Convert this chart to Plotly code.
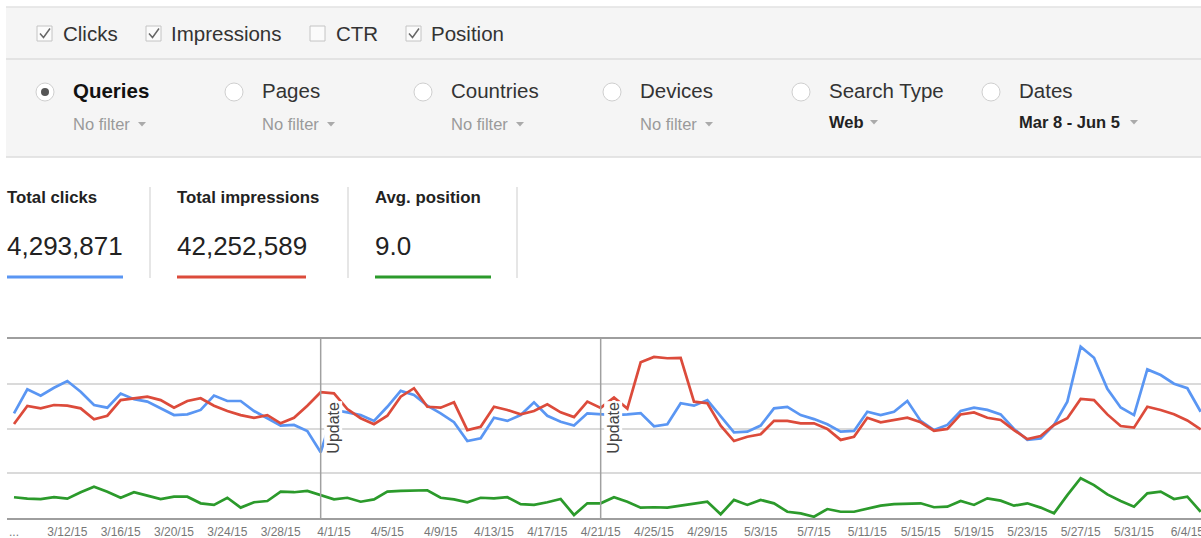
import plotly.graph_objects as go
from datetime import date, timedelta

# ---------------- data ----------------
dates = [(date(2015, 3, 8) + timedelta(days=i)).isoformat() for i in range(90)]

clicks = [46800, 57500, 54700, 58200, 61200, 56400, 50500, 49300, 55600, 53100,
          52000, 49000, 46000, 46300, 48300, 54700, 52300, 52300, 47800, 44600,
          41300, 41600, 38900, 29400, 48300, 47200, 46000, 43400, 49700, 56800,
          55000, 50200, 46800, 42800, 34400, 35600, 44800, 43400, 46000, 51700,
          45700, 43000, 41300, 46800, 46500, 46000, 46300, 46900, 41000, 41900,
          51300, 50200, 52700, 45300, 38300, 38600, 41300, 49000, 49700, 46000,
          44200, 41900, 38600, 38900, 47500, 46000, 47500, 52300, 43400, 39300,
          41600, 47800, 49300, 48300, 46300, 39800, 34900, 35600, 41600, 52000,
          76600, 71600, 57700, 49400, 46000, 66400, 63900, 60000, 58000, 47500]

impressions = [420000, 501000, 490000, 505000, 502000, 490000, 441000, 457000, 527000, 535000,
               542000, 527000, 493000, 523000, 535000, 502000, 478000, 460000, 448000, 460000,
               423000, 448000, 502000, 562000, 557000, 487000, 446000, 419000, 457000, 542000,
               580000, 497000, 493000, 517000, 393000, 408000, 497000, 483000, 463000, 478000,
               508000, 472000, 451000, 520000, 492000, 539000, 489000, 696000, 720000, 714000,
               716000, 520000, 513000, 413000, 344000, 363000, 374000, 434000, 434000, 423000,
               423000, 398000, 349000, 363000, 448000, 428000, 438000, 448000, 428000, 390000,
               398000, 463000, 472000, 448000, 438000, 393000, 353000, 366000, 416000, 446000,
               532000, 527000, 463000, 411000, 404000, 497000, 483000, 464000, 436000, 396000]

position = [8.84, 8.92, 8.94, 8.83, 8.92, 8.56, 8.25, 8.53, 8.87, 8.56,
            8.75, 8.94, 8.81, 8.81, 9.18, 9.27, 8.87, 9.42, 9.12, 9.05,
            8.53, 8.56, 8.49, 8.72, 8.96, 8.87, 9.09, 8.96, 8.53, 8.49,
            8.49, 8.45, 8.87, 8.96, 9.12, 8.87, 8.90, 8.84, 9.23, 9.27,
            9.12, 8.94, 9.83, 9.18, 9.18, 8.84, 9.09, 9.42, 9.40, 9.42,
            9.31, 9.18, 9.09, 9.79, 8.99, 9.27, 8.99, 9.18, 9.65, 9.74,
            9.93, 9.50, 9.65, 9.65, 9.46, 9.31, 9.22, 9.20, 9.18, 9.40,
            9.37, 9.05, 9.27, 8.90, 9.03, 9.31, 9.18, 9.42, 9.74, 8.72,
            7.78, 8.16, 8.68, 9.05, 9.37, 8.62, 8.53, 8.94, 8.81, 9.65]

tick_dates = ["2015-03-08", "2015-03-12", "2015-03-16", "2015-03-20", "2015-03-24",
              "2015-03-28", "2015-04-01", "2015-04-05", "2015-04-09", "2015-04-13",
              "2015-04-17", "2015-04-21", "2015-04-25", "2015-04-29", "2015-05-03",
              "2015-05-07", "2015-05-11", "2015-05-15", "2015-05-19", "2015-05-23",
              "2015-05-27", "2015-05-31", "2015-06-04"]
tick_labels = ["...", "3/12/15", "3/16/15", "3/20/15", "3/24/15", "3/28/15", "4/1/15",
               "4/5/15", "4/9/15", "4/13/15", "4/17/15", "4/21/15", "4/25/15", "4/29/15",
               "5/3/15", "5/7/15", "5/11/15", "5/15/15", "5/19/15", "5/23/15", "5/27/15",
               "5/31/15", "6/4/15"]

update_dates = ["2015-03-31", "2015-04-21"]
update_label = "Update"

metric_names = ["Total clicks", "Total impressions", "Avg. position"]
metric_values = ["4,293,871", "42,252,589", "9.0"]

checkbox_labels = ["Clicks", "Impressions", "CTR", "Position"]
checkbox_checked = [True, True, False, True]

dim_labels = ["Queries", "Pages", "Countries", "Devices", "Search Type", "Dates"]
dim_filters = ["No filter", "No filter", "No filter", "No filter", "Web", "Mar 8 - Jun 5"]

# ---------------- style ----------------
W, H = 1201, 538
FONT = "Liberation Sans, Arial, sans-serif"
BLUE, RED, GREEN = "#5a96f3", "#dc4b3b", "#2b9a2b"


def X(px):
    return px / W


def Y(py):
    return 1 - py / H


shapes = []
annotations = []


def txt(s, x, y, size, color="#333", bold=False, anchor="left"):
    annotations.append(dict(text=("<b>%s</b>" % s) if bold else s, x=X(x), y=Y(y),
                            xref="paper", yref="paper", xanchor=anchor, yanchor="middle",
                            showarrow=False, font=dict(family=FONT, size=size, color=color)))


def rect(x0, y0, x1, y1, fill, line=None, lw=1):
    shapes.append(dict(type="rect", xref="paper", yref="paper", x0=X(x0), x1=X(x1),
                       y0=Y(y1), y1=Y(y0), fillcolor=fill,
                       line=dict(color=line or "rgba(0,0,0,0)", width=lw if line else 0),
                       layer="below"))


def hline(x0, x1, y, color, w=1):
    shapes.append(dict(type="line", xref="paper", yref="paper", x0=X(x0), x1=X(x1),
                       y0=Y(y), y1=Y(y), line=dict(color=color, width=w)))


def vline(x, y0, y1, color, w=1):
    shapes.append(dict(type="line", xref="paper", yref="paper", x0=X(x), x1=X(x),
                       y0=Y(y0), y1=Y(y1), line=dict(color=color, width=w)))


def path(points, color, fill=None, w=1.5):
    d = "M " + " L ".join("%.5f,%.5f" % (X(a), Y(b)) for a, b in points)
    if fill:
        d += " Z"
    shapes.append(dict(type="path", xref="paper", yref="paper", path=d,
                       fillcolor=fill or "rgba(0,0,0,0)",
                       line=dict(color=color, width=0 if fill else w)))


def circle(cx, cy, r, fill, line=None):
    shapes.append(dict(type="circle", xref="paper", yref="paper", x0=X(cx - r), x1=X(cx + r),
                       y0=Y(cy + r), y1=Y(cy - r), fillcolor=fill,
                       line=dict(color=line or "rgba(0,0,0,0)", width=1 if line else 0)))


# top panel
rect(6, 7, 1201, 157, "#f5f5f5")
hline(6, 1201, 7, "#e2e2e2", 1.5)
hline(6, 1201, 59, "#dcdcdc", 1.5)
hline(6, 1201, 157, "#dcdcdc", 1.5)

# checkboxes row
cb_x = [37, 146, 310, 406]
cb_text_x = [61, 169, 334, 429]
for cx, tx, lab, chk in zip(cb_x, cb_text_x, checkbox_labels, checkbox_checked):
    rect(cx, 26, cx + 15, 41, "#fbfbfb", "#c4c4c4", 1)
    if chk:
        path([(cx + 3, 33.5), (cx + 6.5, 37.5), (cx + 13, 28.5)], "#666", w=1.5)
    txt(lab, tx, 33, 20.5, "#333")

# dimension row
rad_x = [45, 234, 423, 612, 801, 991]
dim_text_x = [71, 260, 449, 638, 827, 1017]
arrow_x = [142, 331, 520, 709, 874, 1134]
for i, (rx, tx, ax, lab, flt) in enumerate(zip(rad_x, dim_text_x, arrow_x, dim_labels, dim_filters)):
    circle(rx, 92, 9, "#ffffff", "#cfcfcf")
    if i == 0:
        circle(rx, 92, 4, "#555555")
        txt(lab, tx, 91, 20.5, "#111", bold=True)
    else:
        txt(lab, tx, 91, 20.5, "#333")
    if i >= 4:
        txt(flt, tx, 122, 16.5, "#222", bold=True)
        ay = 122
    else:
        txt(flt, tx, 124, 16.5, "#9a9a9a")
        ay = 124
    path([(ax - 4, ay - 2), (ax + 4, ay - 2), (ax, ay + 2.5)], "#aaa", fill="#aaaaaa")

# metrics
m_x = [7, 177, 375]
m_line = [(7, 123, BLUE), (177, 306, RED), (375, 491, GREEN)]
for mx, nm, val, (l0, l1, col) in zip(m_x, metric_names, metric_values, m_line):
    txt(nm, mx - 2, 197, 16.8, "#222", bold=True)
    txt(val, mx - 2, 246, 26, "#222")
    hline(l0, l1, 277, col, 3)
for sx in [150, 348, 517]:
    vline(sx, 187, 278, "#dedede", 1.5)

# update markers
for d in update_dates:
    shapes.append(dict(type="line", xref="x", yref="paper", x0=d, x1=d,
                       y0=Y(518), y1=Y(339), line=dict(color="#a0a0a0", width=1.5)))
    annotations.append(dict(text=update_label, x=d, y=Y(428), xref="x", yref="paper",
                            xanchor="center", yanchor="middle",
                            xshift=12, textangle=-90, showarrow=False, bgcolor="white",
                            borderpad=0, font=dict(family=FONT, size=16, color="#444")))

fig = go.Figure()
fig.add_trace(go.Scatter(x=dates, y=clicks, mode="lines", line=dict(color=BLUE, width=2.7),
                         yaxis="y", name="Clicks"))
fig.add_trace(go.Scatter(x=dates, y=impressions, mode="lines", line=dict(color=RED, width=2.7),
                         yaxis="y2", name="Impressions"))
fig.add_trace(go.Scatter(x=dates, y=position, mode="lines", line=dict(color=GREEN, width=2.7),
                         yaxis="y3", name="Position"))

dom_y = [Y(518), Y(339)]
fig.update_layout(
    width=W, height=H, template="none",
    margin=dict(l=0, r=0, t=0, b=0),
    paper_bgcolor="white", plot_bgcolor="white",
    showlegend=False, hovermode=False,
    shapes=shapes, annotations=annotations,
    xaxis=dict(type="date", domain=[X(7), 1], range=["2015-03-07 11:24", "2015-06-05 00:36"],
               tickmode="array", tickvals=tick_dates, ticktext=tick_labels,
               tickfont=dict(family=FONT, size=12, color="#777"),
               ticks="outside", ticklen=2, tickcolor="rgba(0,0,0,0)", ticklabeloverflow="allow",
               showgrid=False, zeroline=False, showline=True, mirror=True,
               linecolor="#9e9e9e", linewidth=1.5, automargin=False),
    yaxis=dict(domain=dom_y, range=[0, 80000], dtick=20000, tick0=0, showgrid=True,
               gridcolor="#dadada", gridwidth=1.5, showticklabels=False, zeroline=False,
               showline=False, automargin=False, ticks=""),
    yaxis2=dict(overlaying="y", range=[0, 800000], showgrid=False, showticklabels=False,
                zeroline=False, showline=False, automargin=False, ticks=""),
    yaxis3=dict(overlaying="y", range=[10, 0], showgrid=False, showticklabels=False,
                zeroline=False, showline=False, automargin=False, ticks=""),
)

fig.write_html("out.html", config={"displayModeBar": False},
               post_script="document.body.style.margin='0';document.body.style.overflow='hidden';")
